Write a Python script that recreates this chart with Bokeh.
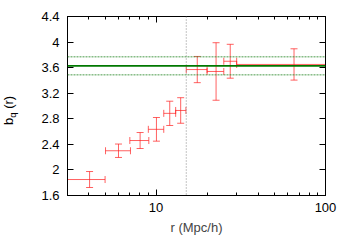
from bokeh.plotting import figure
from bokeh.layouts import row
from bokeh.models import (ColumnDataSource, Whisker, TeeHead, Span, Div,
                          FixedTicker, LinearAxis, LogAxis)
from bokeh.embed import file_html
from bokeh.resources import INLINE

# data
r_center = [4.05, 6.0, 8.05, 10.05, 12.04, 13.97, 17.5, 22.6, 27.4, 65.2]
r_low = [3.0, 5.03, 7.0, 9.0, 11.1, 13.05, 15.07, 20.0, 25.1, 29.9]
r_high = [5.0, 7.06, 9.06, 11.1, 13.05, 15.0, 20.0, 25.1, 29.9, 100.0]
b_val = [1.85, 2.30, 2.46, 2.635, 2.885, 2.93, 3.57, 3.54, 3.70, 3.65]
b_err = [0.125, 0.105, 0.125, 0.185, 0.19, 0.2, 0.205, 0.45, 0.265, 0.245]

fit_value = 3.628
fit_err = 0.141
r_cut = 15.07

x_major = [10, 100]
x_minor = [3, 4, 5, 6, 7, 8, 9, 20, 30, 40, 50, 60, 70, 80, 90]
x_labels = {10: "10", 100: "100"}
y_ticks = [1.6, 2.0, 2.4, 2.8, 3.2, 3.6, 4.0, 4.4]
y_overrides = {2.0: "2", 4.0: "4"}

FONT = "Liberation Sans"
FS = "13px"
DIV_W = 24

p = figure(width=342 - DIV_W, height=237, x_axis_type="log",
           x_range=(3, 100), y_range=(1.6, 4.4),
           output_backend="svg", toolbar_location=None,
           min_border_left=67 - DIV_W, min_border_right=17,
           min_border_top=16, min_border_bottom=38, margin=0)
p.xgrid.visible = False
p.ygrid.visible = False
p.outline_line_color = "black"
p.outline_line_width = 1
p.background_fill_color = "white"
p.border_fill_color = "white"

src = ColumnDataSource(dict(x=r_center, xl=r_low, xh=r_high, y=b_val,
                            yl=[b - e for b, e in zip(b_val, b_err)],
                            yh=[b + e for b, e in zip(b_val, b_err)]))

red = "#ff2020"
alpha = 0.7
def tee():
    return TeeHead(size=7, line_color=red, line_alpha=alpha, line_width=1)
yw = Whisker(source=src, base="x", lower="yl", upper="yh", dimension="height",
             line_color=red, line_alpha=alpha, line_width=1,
             upper_head=tee(), lower_head=tee())
xw = Whisker(source=src, base="y", lower="xl", upper="xh", dimension="width",
             line_color=red, line_alpha=alpha, line_width=1,
             upper_head=tee(), lower_head=tee())
p.add_layout(yw)
p.add_layout(xw)

p.add_layout(Span(location=r_cut, dimension="height", line_color="#888888",
                  line_dash="1 2", line_width=1))
p.add_layout(Span(location=fit_value + fit_err, dimension="width", line_color="#2a8a2a",
                  line_dash="2 1", line_width=1, line_alpha=0.85))
p.add_layout(Span(location=fit_value - fit_err, dimension="width", line_color="#2a8a2a",
                  line_dash="2 1", line_width=1, line_alpha=0.85))
p.add_layout(Span(location=fit_value, dimension="width", line_color="#007800",
                  line_width=1.8))

def style(ax, labels=True):
    ax.major_tick_in = 6
    ax.major_tick_out = 0
    ax.minor_tick_in = 3
    ax.minor_tick_out = 0
    ax.axis_line_color = "black"
    ax.major_tick_line_color = "black"
    ax.minor_tick_line_color = "black"
    ax.major_label_text_font = FONT
    ax.major_label_text_font_size = FS
    ax.major_label_text_color = "black"
    if not labels:
        ax.major_label_text_font_size = "0px"
        ax.major_label_text_alpha = 0
        ax.major_label_standoff = 0

xa = p.xaxis[0]
xa.ticker = FixedTicker(ticks=x_major, minor_ticks=x_minor)
xa.major_label_overrides = x_labels
style(xa)
xa.major_label_standoff = 7
xa.axis_label = "r (Mpc/h)"
xa.axis_label_text_font = FONT
xa.axis_label_text_font_size = FS
xa.axis_label_text_font_style = "normal"
xa.axis_label_standoff = 5

ya = p.yaxis[0]
ya.ticker = FixedTicker(ticks=y_ticks, minor_ticks=[])
ya.major_label_overrides = y_overrides
style(ya)
ya.major_label_standoff = 8

top = LogAxis(ticker=FixedTicker(ticks=x_major, minor_ticks=x_minor))
style(top, labels=False)
p.add_layout(top, "above")
right = LinearAxis(ticker=FixedTicker(ticks=y_ticks, minor_ticks=[]))
style(right, labels=False)
p.add_layout(right, "right")

# y axis label b_q (r), rotated, as an HTML block to the left of the plot
ylabel_html = (
    '<div style="position:absolute; left:2px; top:125px; '
    'transform:rotate(-90deg); transform-origin:left top; white-space:nowrap; '
    f'font-family:\'{FONT}\'; font-size:{FS}; line-height:1; color:black;">'
    'b<span style="position:relative; top:3px; font-size:9.5px;">q</span> (r)</div>'
)
ylab = Div(text=ylabel_html, width=DIV_W, height=237, margin=0,
           styles={"position": "relative", "overflow": "visible"})

layout = row(ylab, p, spacing=0, margin=0)
open("out.html", "w").write(file_html(layout, INLINE))
